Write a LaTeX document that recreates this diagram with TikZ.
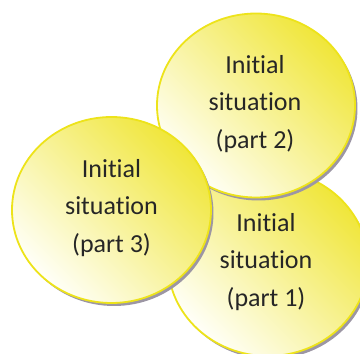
\documentclass[tikz,border=0pt]{standalone}
\usepackage{fontspec}
\setmainfont{Carlito}[Ligatures={NoCommon,NoRequired,NoContextual}]
\begin{document}
\begin{tikzpicture}[x=1pt,y=1pt]
\definecolor{rimc}{HTML}{EDE31A}
\definecolor{topc}{HTML}{F0E63A}
\definecolor{midc}{HTML}{FAF6BE}
\definecolor{botc}{HTML}{FFFFF8}
\definecolor{shadc}{HTML}{9C96A4}
\definecolor{txtc}{HTML}{262626}
\tikzset{
  shad/.style={fill=shadc},
  circ/.style={draw=rimc, line width=1.8pt, top color=topc, middle color=midc, bottom color=botc, shading angle=-45},
  lbl/.style={text=txtc, font=\fontsize{26}{37.5}\selectfont, align=center}
}
\useasboundingbox (0,0) rectangle (360,354);
% circle 1
\fill[shad] (270.5,88) ellipse [x radius=100, y radius=93];
\draw[circ] (268,91) ellipse [x radius=100, y radius=93];
\node[lbl] (p1) at (266,92) {Initial\\situation\\(part 1)};
% circle 2
\fill[shad] (258.5,245.5) ellipse [x radius=99, y radius=92];
\draw[circ] (256,248.5) ellipse [x radius=99, y radius=92];
\node[lbl] (p2) at (255,250) {Initial\\situation\\(part 2)};
% circle 3
\fill[shad] (114,141) ellipse [x radius=99.5, y radius=93];
\draw[circ] (111.5,144) ellipse [x radius=99.5, y radius=93];
\node[lbl] (p3) at (111.5,146) {Initial\\situation\\(part 3)};
\end{tikzpicture}
\end{document}
